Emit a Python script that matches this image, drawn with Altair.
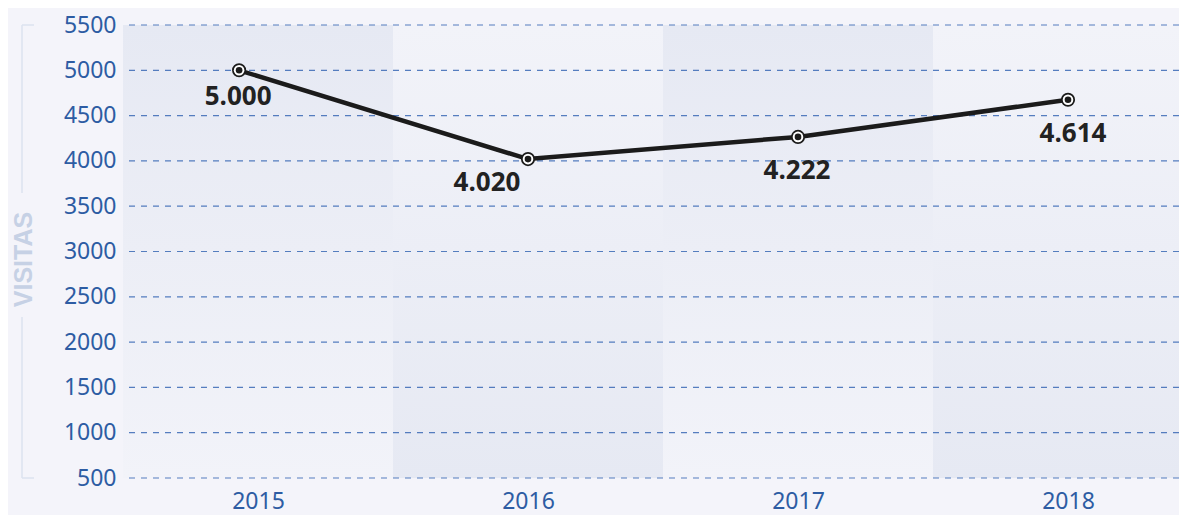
import altair as alt
import pandas as pd

# ---- data ----
years = [2015, 2016, 2017, 2018]
point_x = [2014.93, 2016.0, 2017.0, 2018.0]   # where each point sits on the year axis
visits = [5000, 4020, 4265, 4675]             # plotted positions
value_labels = ["5.000", "4.020", "4.222", "4.614"]  # printed labels
y_ticks = [500, 1000, 1500, 2000, 2500, 3000, 3500, 4000, 4500, 5000, 5500]

# ---- layout ----
PLOT_W = 1056
PLOT_H = 453
BAND_PX = 270
PAD = {"left": 115, "top": 17, "right": 0, "bottom": 37}

BG = "#f4f4fa"
BAND_DARK = "#e6e9f3"
BAND_LIGHT = "#f2f3f9"
GRID = "#4470b8"
TICK_COLOR = "#2d5ca3"
LINE = "#1b1b1b"

df = pd.DataFrame({"year": years, "px": point_x, "visits": visits, "label": value_labels})
df["x0"] = df["year"] - 0.5
df["x1"] = df["year"] + 0.5
df["ytop"] = y_ticks[-1]
df["ybot"] = y_ticks[0]
df["parity"] = ["a" if i % 2 == 0 else "b" for i in range(len(df))]

ticks_df = pd.DataFrame({"tick": y_ticks})

x_scale = alt.Scale(domain=[years[0] - 0.5, years[0] - 0.5 + PLOT_W / BAND_PX], nice=False, zero=False)
y_scale = alt.Scale(domain=[y_ticks[0], y_ticks[-1]], nice=False, zero=False)

X_AX = alt.Axis(values=years, format="d", grid=False, domain=False, ticks=False,
                tickSize=0, labelPadding=12, labelFont="Noto Sans", labelFontSize=23,
                labelColor=TICK_COLOR, title=None, labelFlush=False)
Y_AX = alt.Axis(values=y_ticks, format="d", grid=False, domain=False, ticks=False,
                tickSize=0, labelPadding=7, labelFont="Noto Sans", labelFontSize=23,
                labelColor=TICK_COLOR, title="VISITAS", titleFont="Liberation Sans",
                titleFontSize=25, titleFontWeight="bold", titleColor="#c6d1e5",
                titleAngle=270, titleX=-100, titleY=234, titleAlign="center",
                titleBaseline="middle")

grad_top = alt.LinearGradient(gradient="linear", x1=0, x2=0, y1=0, y2=1,
                              stops=[alt.GradientStop(color=BAND_DARK, offset=0),
                                     alt.GradientStop(color=BAND_LIGHT, offset=1)])
grad_bot = alt.LinearGradient(gradient="linear", x1=0, x2=0, y1=0, y2=1,
                              stops=[alt.GradientStop(color=BAND_LIGHT, offset=0),
                                     alt.GradientStop(color=BAND_DARK, offset=1)])

base = alt.Chart(df)

bands_a = base.transform_filter(alt.datum.parity == "a").mark_rect(color=grad_top, clip=True).encode(
    x=alt.X("x0:Q", scale=x_scale, axis=X_AX), x2="x1:Q",
    y=alt.Y("ytop:Q", scale=y_scale, axis=Y_AX), y2="ybot:Q")
bands_b = base.transform_filter(alt.datum.parity == "b").mark_rect(color=grad_bot, clip=True).encode(
    x=alt.X("x0:Q", scale=x_scale, axis=X_AX), x2="x1:Q",
    y=alt.Y("ytop:Q", scale=y_scale, axis=Y_AX), y2="ybot:Q")

grid = alt.Chart(ticks_df).mark_rule(color=GRID, strokeWidth=1.2, strokeDash=[6, 6], opacity=0.9).encode(
    y=alt.Y("tick:Q", scale=y_scale, axis=Y_AX))

# decorative bracket around the axis title
deco_df = pd.DataFrame({"k": [0]})
bx = -101
b1 = alt.Chart(deco_df).mark_rule(color="#dde3ef", strokeWidth=1.5).encode(
    x=alt.value(bx), y=alt.value(0), y2=alt.value(168))
b2 = alt.Chart(deco_df).mark_rule(color="#dde3ef", strokeWidth=1.5).encode(
    x=alt.value(bx), y=alt.value(292), y2=alt.value(PLOT_H))
b3 = alt.Chart(deco_df).mark_rule(color="#dde3ef", strokeWidth=1.5).encode(
    x=alt.value(bx), x2=alt.value(bx + 12), y=alt.value(0))
b4 = alt.Chart(deco_df).mark_rule(color="#dde3ef", strokeWidth=1.5).encode(
    x=alt.value(bx), x2=alt.value(bx + 12), y=alt.value(PLOT_H))

enc = dict(x=alt.X("px:Q", scale=x_scale, axis=X_AX),
           y=alt.Y("visits:Q", scale=y_scale, axis=Y_AX))

line = base.mark_line(color=LINE, strokeWidth=4.5).encode(**enc)
p1 = base.mark_circle(color=LINE, size=200, opacity=1).encode(**enc)
p2 = base.mark_circle(color="#ffffff", size=112, opacity=1).encode(**enc)
p3 = base.mark_circle(color=LINE, size=44, opacity=1).encode(**enc)

txt = dict(font="Open Sans", fontWeight="bold", fontSize=26, color="#222222", baseline="middle")
t1 = base.transform_filter(alt.datum.year == years[0]).mark_text(dy=27, dx=-1, **txt).encode(text="label:N", **enc)
t2 = base.transform_filter(alt.datum.year == years[1]).mark_text(dy=24, dx=-41, **txt).encode(text="label:N", **enc)
t3 = base.transform_filter(alt.datum.year == years[2]).mark_text(dy=34, dx=-1, **txt).encode(text="label:N", **enc)
t4 = base.transform_filter(alt.datum.year == years[3]).mark_text(dy=34, dx=5, **txt).encode(text="label:N", **enc)

chart = alt.layer(bands_a, bands_b, grid, b1, b2, b3, b4, line, p1, p2, p3, t1, t2, t3, t4).properties(
    width=PLOT_W, height=PLOT_H, padding=PAD,
    autosize=alt.AutoSizeParams(type="none"),
    background=BG,
).configure_view(stroke=None)

chart.save("out.html", embed_options={"renderer": "svg", "actions": False})
